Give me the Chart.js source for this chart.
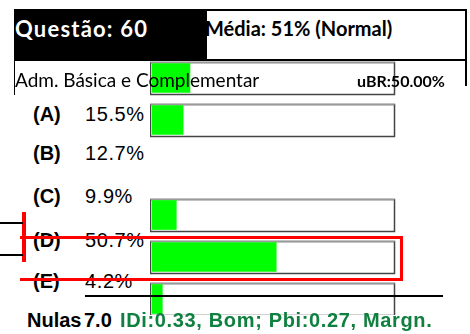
<!DOCTYPE html>
<html>
<head>
<meta charset="utf-8">
<script src="https://cdn.jsdelivr.net/npm/chart.js@4.4.0/dist/chart.umd.min.js"></script>
<style>
  html, body { margin: 0; padding: 0; background: #fff; }
  body { width: 470px; height: 334px; position: relative; overflow: hidden; font-family: Arial, "Liberation Sans", sans-serif; }
  .abs { position: absolute; white-space: nowrap; line-height: 1; }
  .cal { font-family: Lato, "Open Sans", sans-serif; }
  .line { position: absolute; }
  .red { background: #ff0000; }
  .blk { background: #000; }
</style>
</head>
<body>
<!-- header -->
<div class="line blk" style="left:14px;top:9px;width:191px;height:52px"></div>
<div class="line" style="left:205px;top:9px;width:262px;height:52px;border:2px solid #000;box-sizing:border-box"></div>
<div class="line blk" style="left:14px;top:61px;width:1px;height:34px"></div>
<div class="line blk" style="left:465px;top:61px;width:2px;height:25px"></div>

<!-- answer bars -->
<canvas id="barsTop" class="abs" width="247" height="84" style="left:150px;top:57px"></canvas>
<div class="abs" style="left:150px;top:194px;width:247px;height:121px;overflow:hidden">
  <canvas id="barsBottom" width="247" height="126"></canvas>
</div>

<div id="texts"></div>

<!-- markers around the key -->
<div class="line red" style="left:20px;top:236px;width:383px;height:3px"></div>
<div class="line red" style="left:20px;top:278px;width:383px;height:3px"></div>
<div class="line red" style="left:400px;top:236px;width:3px;height:45px"></div>
<div class="line red" style="left:22px;top:212px;width:4px;height:50px"></div>
<div class="line blk" style="left:0;top:222px;width:23px;height:2px"></div>
<div class="line blk" style="left:0;top:254px;width:23px;height:2px"></div>
<div class="line blk" style="left:85px;top:295px;width:358px;height:2px"></div>

<script>
const questionNo = 60;
const average = 51;
const averageLabel = "Normal";
const subject = "Adm. Básica e Complementar";
const ubr = 50.0;
const choices = ["A", "B", "C", "D", "E"];
const percents = [15.5, 12.7, 9.9, 50.7, 4.2];
const nulls = 7.0;
const idi = 0.33;
const idiLabel = "Bom";
const pbi = 0.27;
const pbiLabel = "Margn.";

// vertical centre of each answer row's text
const rowY = [114, 153, 196, 240, 281];

const texts = document.getElementById("texts");
function put(text, x, y, cls, style) {
  const d = document.createElement("div");
  d.className = "abs " + (cls || "");
  d.textContent = text;
  d.style.cssText += `left:${x}px;top:${y}px;` + (style || "");
  texts.appendChild(d);
  return d;
}

put(`Questão: ${questionNo}`, 15, 18, "cal", "color:#fff;font-weight:bold;font-size:22px;letter-spacing:1.2px");
put(`Média: ${average}% (${averageLabel})`, 205, 18, "cal", "font-weight:bold;font-size:20px");
put(subject, 15, 70, "cal", "font-size:19px");
put(`uBR:${ubr.toFixed(2)}%`, 357, 73, "cal", "font-weight:bold;font-size:16px");

choices.forEach((c, i) => {
  put(`(${c})`, 33, rowY[i] - 10, "", "font-weight:bold;font-size:20px");
  put(`${percents[i].toFixed(1)}%`, 85, rowY[i] - 10, "", "font-size:20px;letter-spacing:0.6px");
});
put("Nulas", 27, 310, "", "font-weight:bold;font-size:20px");
put(nulls.toFixed(1), 84, 310, "", "font-weight:bold;font-size:20px");
put(`IDi:${idi.toFixed(2)}, ${idiLabel}; Pbi:${pbi.toFixed(2)}, ${pbiLabel}`, 120, 310, "",
    "font-weight:bold;font-size:20px;letter-spacing:0.65px;color:#108040");

// empty box behind every bar, spanning the full 0-100 range
const trackBoxes = {
  id: "trackBoxes",
  beforeDatasetsDraw(chart) {
    const { ctx } = chart;
    const x = chart.scales.x;
    const left = x.getPixelForValue(0) - 1.5;
    const right = x.getPixelForValue(100) - 2.5;
    chart.getDatasetMeta(0).data.forEach(bar => {
      const top = Math.round(bar.y) - 16 + 0.5;
      ctx.save();
      ctx.lineWidth = 1.5;
      ctx.strokeStyle = "#444";
      ctx.strokeRect(left, top, right - left, 32);
      ctx.strokeStyle = "#9a9a9a";
      ctx.beginPath();
      ctx.moveTo(left, top);
      ctx.lineTo(right, top);
      ctx.stroke();
      ctx.restore();
    });
  }
};

function makeBars(id, labels, values) {
  return new Chart(document.getElementById(id), {
    type: "bar",
    data: {
      labels,
      datasets: [{
        data: values,
        backgroundColor: "#00ff00",
        borderWidth: 0,
        barThickness: 29
      }]
    },
    options: {
      indexAxis: "y",
      responsive: false,
      animation: false,
      layout: { padding: { left: 2, right: 0, top: 0, bottom: 0 } },
      plugins: { legend: { display: false }, tooltip: { enabled: false } },
      scales: {
        x: { display: false, min: 0, max: 100 },
        y: { display: false }
      }
    },
    plugins: [trackBoxes]
  });
}

makeBars("barsTop", choices.slice(0, 2), percents.slice(0, 2));
makeBars("barsBottom", choices.slice(2), percents.slice(2));
</script>
</body>
</html>
